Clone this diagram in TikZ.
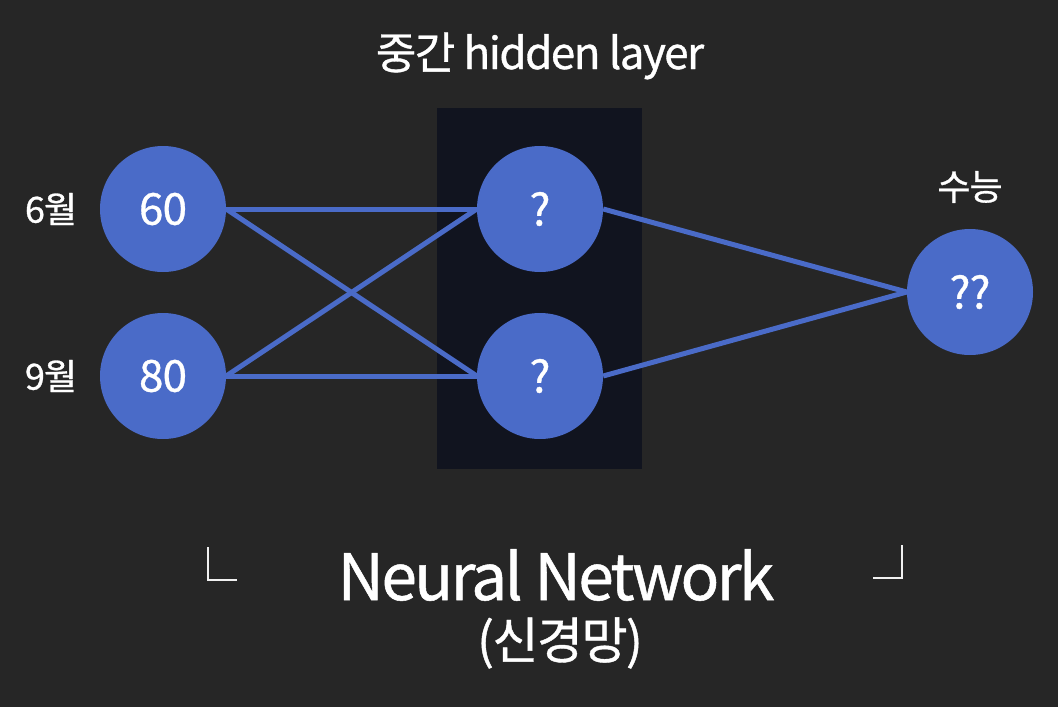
\documentclass[tikz,border=0pt]{standalone}
\usepackage{fontspec}
\setmainfont{Noto Sans CJK KR}[FakeBold=0.8]
\definecolor{bg}{HTML}{262626}
\definecolor{hid}{HTML}{11141F}
\definecolor{nodeblue}{HTML}{4A6BC8}
\begin{document}
\begin{tikzpicture}[x=1pt,y=-1pt,
  neuron/.style={circle,fill=nodeblue,minimum size=126pt,inner sep=0pt,text=white,font=\fontsize{44}{50}\selectfont\addfontfeatures{LetterSpace=-2}},
  link/.style={draw=nodeblue,line width=5pt},
  lbl/.style={text=white,inner sep=0pt},
  bracket/.style={draw=white!94!black,line width=2.5pt}]
\fill[bg] (0,0) rectangle (1058,707);
\useasboundingbox (0,0) rectangle (1058,707);
\fill[hid] (437,108) rectangle (642,469);
\node[neuron] (a) at (163,209) {60};
\node[neuron] (b) at (163,376) {80};
\node[neuron] (h1) at (540,209) {?};
\node[neuron] (h2) at (540,376) {?};
\node[neuron] (o) at (970,292) {??};
\draw[link] (a.east) -- (h1.west);
\draw[link] (a.east) -- (h2.west);
\draw[link] (b.east) -- (h1.west);
\draw[link] (b.east) -- (h2.west);
\draw[link] (h1.east) -- (o.west);
\draw[link] (h2.east) -- (o.west);
\node[lbl,font=\fontsize{36}{40}\selectfont\addfontfeatures{LetterSpace=-3}] (l6) at (51,209) {6월};
\node[lbl,font=\fontsize{36}{40}\selectfont\addfontfeatures{LetterSpace=-3}] (l9) at (51,376) {9월};
\node[lbl,font=\fontsize{36}{40}\selectfont\addfontfeatures{LetterSpace=-3}] (sn) at (970,187) {수능};
\node[lbl,font=\fontsize{44}{50}\selectfont\addfontfeatures{LetterSpace=-3.5}] (title) at (540,56) {중간 hidden layer};
\node[lbl,font=\fontsize{64}{70}\selectfont\addfontfeatures{LetterSpace=-4}] (nn) at (556,575) {Neural Network};
\node[lbl,font=\fontsize{50}{56}\selectfont\addfontfeatures{LetterSpace=-3}] (kn) at (560,643) {(신경망)};
\coordinate (bl1) at (208,547);
\coordinate (bl2) at (208,580);
\coordinate (bl3) at (237,580);
\coordinate (br1) at (873,578);
\coordinate (br2) at (902,578);
\coordinate (br3) at (902,545);
\draw[bracket] (bl1) -- (bl2) -- (bl3);
\draw[bracket] (br1) -- (br2) -- (br3);
\end{tikzpicture}
\end{document}
